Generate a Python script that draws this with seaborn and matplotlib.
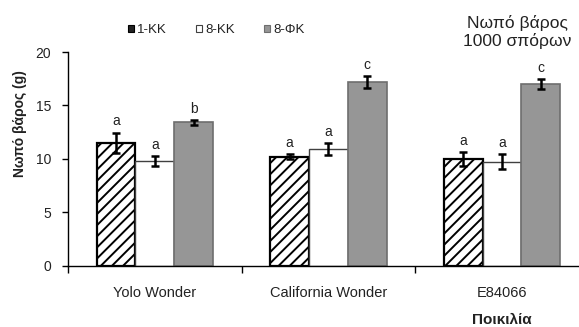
import matplotlib
matplotlib.use("Agg")
import matplotlib.pyplot as plt
import seaborn as sns
import pandas as pd
from matplotlib.patches import Patch

# Data
varieties = ["Yolo Wonder", "California Wonder", "E84066"]
treatments = ["1-KK", "8-KK", "8-ΦΚ"]
means = {
    "1-KK": [11.5, 10.2, 10.0],
    "8-KK": [9.8, 10.9, 9.7],
    "8-ΦΚ": [13.4, 17.2, 17.0],
}
errors = {
    "1-KK": [0.95, 0.25, 0.65],
    "8-KK": [0.45, 0.55, 0.7],
    "8-ΦΚ": [0.2, 0.55, 0.5],
}
letters = {
    "1-KK": ["a", "a", "a"],
    "8-KK": ["a", "a", "a"],
    "8-ΦΚ": ["b", "c", "c"],
}

sns.set_theme(style="white")
plt.rcParams["font.family"] = ["Liberation Sans", "DejaVu Sans"]
plt.rcParams["hatch.linewidth"] = 1.4
plt.rcParams["hatch.color"] = "black"

rows = []
for t in treatments:
    for v, m in zip(varieties, means[t]):
        rows.append({"variety": v, "treatment": t, "value": m})
df = pd.DataFrame(rows)

fig = plt.figure(figsize=(5.79, 3.27), dpi=100)
ax = fig.add_axes([68 / 579, 1 - 265.5 / 327, 511 / 579, 213.5 / 327])

palette = {"1-KK": "white", "8-KK": "white", "8-ΦΚ": "#969696"}
sns.barplot(data=df, x="variety", y="value", hue="treatment", order=varieties,
            hue_order=treatments, palette=palette, errorbar=None, width=0.67,
            ax=ax, legend=False, saturation=1)

styles = {
    "1-KK": dict(facecolor="white", edgecolor="black", hatch="///", lw=1.6),
    "8-KK": dict(facecolor="white", edgecolor="#404040", hatch=None, lw=1.0),
    "8-ΦΚ": dict(facecolor="#969696", edgecolor="#6e6e6e", hatch=None, lw=1.2),
}

for t, cont in zip(treatments, ax.containers):
    xs = []
    for bar in cont:
        st = styles[t]
        bar.set_facecolor(st["facecolor"])
        bar.set_edgecolor(st["edgecolor"])
        bar.set_linewidth(st["lw"])
        if st["hatch"]:
            bar.set_hatch(st["hatch"])
        xs.append(bar.get_x() + bar.get_width() / 2)
    ax.errorbar(xs, means[t], yerr=errors[t], fmt="none", ecolor="black",
                elinewidth=1.8, capsize=3.0, capthick=1.8, zorder=5)
    for x, m, e, lab in zip(xs, means[t], errors[t], letters[t]):
        ax.annotate(lab, (x, m + e), xytext=(0, 3), textcoords="offset points",
                    ha="center", va="bottom", fontsize=10, color="#222222")

ax.set_xlim(-0.5, 2.444)
ax.set_ylim(0, 20)
ax.set_yticks([0, 5, 10, 15, 20])
ax.set_xlabel("")
ax.set_ylabel("")
for s in ["top", "right"]:
    ax.spines[s].set_visible(False)
for s in ["left", "bottom"]:
    ax.spines[s].set_color("black")
    ax.spines[s].set_linewidth(1.0)

ax.set_xticks([0, 1, 2])
ax.set_xticklabels(varieties)
ax.set_xticks([-0.5, 0.5, 1.5], minor=True)
ax.tick_params(axis="x", which="major", length=0, pad=15, labelsize=10.5,
               labelcolor="#222222")
ax.tick_params(axis="x", which="minor", length=5, width=1, color="black",
               direction="out", bottom=True)
ax.tick_params(axis="y", length=4, width=1, color="black", direction="out",
               left=True, labelsize=10, labelcolor="#222222", pad=8)

fig.text(20 / 579, 1 - 124 / 327, "Νωπό βάρος (g)", rotation=90, ha="center",
         va="center", fontsize=10, fontweight="bold", color="#222222")
fig.text(502 / 579, 1 - 320 / 327, "Ποικιλία", ha="center", va="center",
         fontsize=11, fontweight="bold", color="#222222")
fig.text(517 / 579, 1 - 32 / 327, "Νωπό βάρος\n1000 σπόρων", ha="center",
         va="center", fontsize=12.5, color="#222222", linespacing=1.1)

handles = [Patch(facecolor="#222222", edgecolor="black", lw=0.8, label="1-KK"),
           Patch(facecolor="white", edgecolor="#404040", lw=0.8, label="8-KK"),
           Patch(facecolor="#969696", edgecolor="#6e6e6e", lw=0.8,
                 label="8-ΦΚ")]
fig.legend(handles=handles, loc="center", bbox_to_anchor=(216 / 579, 1 - 30 / 327),
           ncol=3, frameon=False, fontsize=9.5, handlelength=0.45,
           handleheight=0.45, handletextpad=0.25, columnspacing=2.2,
           labelcolor="#222222")

fig.savefig("out.png", dpi=100)
